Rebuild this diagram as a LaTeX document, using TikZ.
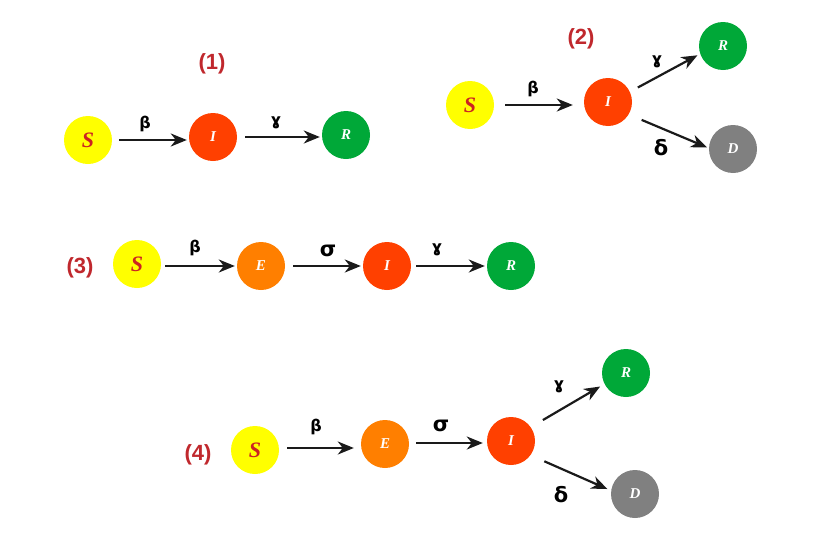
\documentclass[tikz,border=0pt]{standalone}
\usepackage{fontspec}
\setmainfont{Liberation Serif}
\newfontfamily\lsans{Liberation Sans}
\newfontfamily\dsans{DejaVu Sans}
\usetikzlibrary{arrows.meta}
\definecolor{cS}{HTML}{FFFF00}
\definecolor{cStext}{HTML}{CC2222}
\definecolor{cI}{HTML}{FF4000}
\definecolor{cE}{HTML}{FF7F00}
\definecolor{cR}{HTML}{00A838}
\definecolor{cD}{HTML}{808080}
\definecolor{lab}{HTML}{C0282D}
\definecolor{arr}{HTML}{1A1A1A}
\tikzset{
  comp/.style={circle,minimum size=48pt,inner sep=0pt,text=white,font=\fontsize{15}{15}\selectfont\bfseries\itshape},
  sbox/.style={comp,fill=cS,text=cStext,font=\fontsize{22}{22}\selectfont\bfseries\itshape},
  ibox/.style={comp,fill=cI},
  ebox/.style={comp,fill=cE},
  rbox/.style={comp,fill=cR},
  dbox/.style={comp,fill=cD},
  flow/.style={draw=arr,line width=2.2pt,-{Stealth[length=16pt,width=13pt,inset=5pt]},shorten <=8pt,shorten >=2pt},
  smallg/.style={inner sep=0pt,font=\dsans\bfseries\fontsize{16}{16}\selectfont},
  bigg/.style={inner sep=0pt,font=\dsans\bfseries\fontsize{21}{21}\selectfont},
  panel/.style={inner sep=0pt,text=lab,font=\lsans\bfseries\fontsize{22}{22}\selectfont},
}
\begin{document}
\begin{tikzpicture}[x=1pt,y=-1pt]
\useasboundingbox (0,0) rectangle (820,549);
% Panel 1
\node[panel] (p1) at (212,64) {(1)};
\node[sbox] (S1) at (88,140) {S};
\node[ibox] (I1) at (213,137) {I};
\node[rbox] (R1) at (346,135) {R};
\draw[flow,shorten <=7pt] (S1.east) -- (S1.east -| I1.west);
\draw[flow,shorten <=8pt] (I1.east) -- (I1.east -| R1.west);
\node[smallg] (b1) at (145,124) {β};
\node[smallg] (g1) at (276,123) {ɣ};
% Panel 2
\node[panel] (p2) at (581,39) {(2)};
\node[sbox] (S2) at (470,105) {S};
\node[ibox] (I2) at (608,102) {I};
\node[rbox] (R2) at (723,46) {R};
\node[dbox] (D2) at (733,149) {D};
\draw[flow,shorten <=11pt,shorten >=11pt] (S2.east) -- (S2.east -| I2.west);
\draw[flow,shorten <=9pt,shorten >=3pt] (I2.25) -- (R2.199);
\draw[flow,shorten <=14pt,shorten >=2pt] (I2.-31) -- (D2.178);
\node[smallg] (b2) at (533,89) {β};
\node[smallg] (g2) at (657,62) {ɣ};
\node[bigg] (d2) at (661,148) {δ};
% Panel 3
\node[panel] (p3) at (80,268) {(3)};
\node[sbox] (S3) at (137,264) {S};
\node[ebox] (E3) at (261,266) {E};
\node[ibox] (I3) at (387,266) {I};
\node[rbox] (R3) at (511,266) {R};
\draw[flow,shorten <=4pt] (S3.east |- E3.west) -- (E3.west);
\draw[flow,shorten <=8pt] (E3) -- (I3);
\draw[flow,shorten <=5pt] (I3) -- (R3);
\node[smallg] (b3) at (195,248) {β};
\node[bigg] (s3) at (328,251) {σ};
\node[smallg] (g3) at (437,250) {ɣ};
% Panel 4
\node[panel] (p4) at (198,455) {(4)};
\node[sbox] (S4) at (255,450) {S};
\node[ebox] (E4) at (385,444) {E};
\node[ibox] (I4) at (511,441) {I};
\node[rbox] (R4) at (626,373) {R};
\node[dbox] (D4) at (635,494) {D};
\draw[flow,shorten <=8pt,shorten >=7pt] (S4.east |- 0,448) -- (E4.west |- 0,448);
\draw[flow,shorten <=7pt,shorten >=4pt] (E4.east |- 0,443) -- (I4.west |- 0,443);
\draw[flow,shorten <=14pt,shorten >=5pt] (I4.35) -- (R4.207);
\draw[flow,shorten <=15pt,shorten >=4pt] (I4.-36) -- (D4.172);
\node[smallg] (b4) at (316,427) {β};
\node[bigg] (s4) at (441,426) {σ};
\node[smallg] (g4) at (559,387) {ɣ};
\node[bigg] (d4) at (561,495) {δ};
\end{tikzpicture}
\end{document}
